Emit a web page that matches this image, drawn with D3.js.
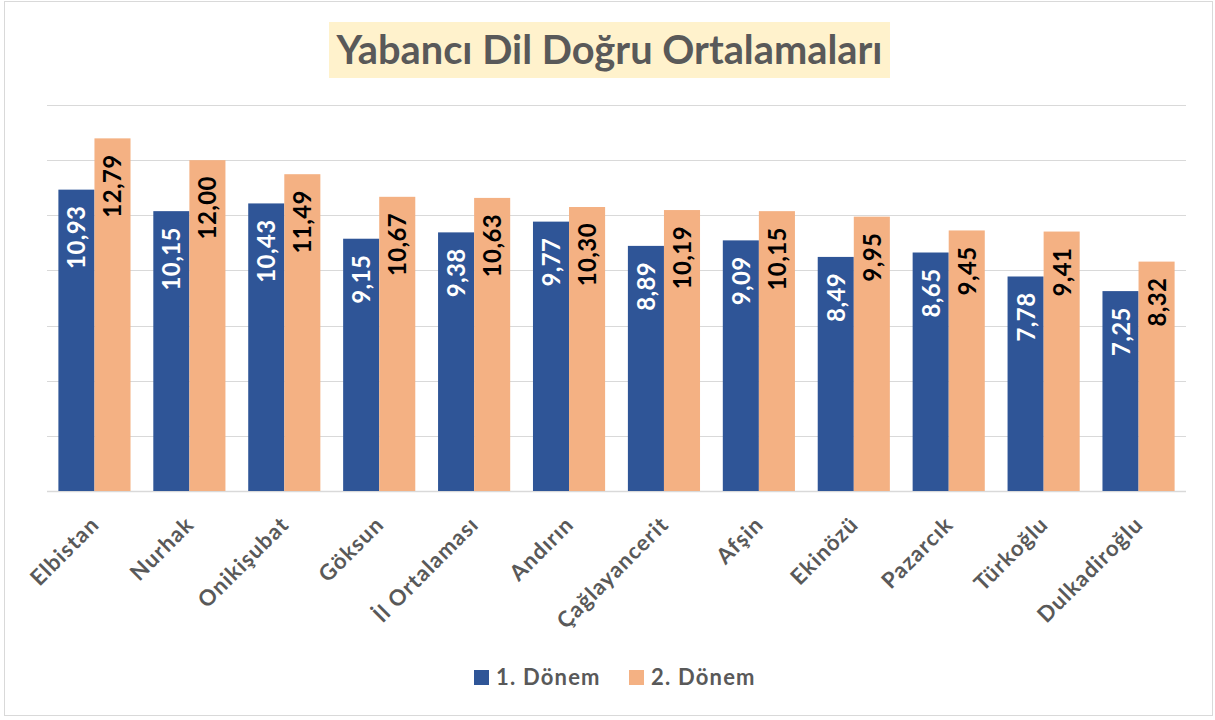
<!DOCTYPE html>
<html>
<head>
<meta charset="utf-8">
<script src="https://cdn.jsdelivr.net/npm/d3@7"></script>
<style>
  body { margin: 0; background: #fff; }
  svg text { font-family: Lato, "Open Sans", sans-serif; font-weight: bold; }
</style>
</head>
<body>
<div id="chart"></div>
<script>
// chart data
const categories = ['Elbistan', 'Nurhak', 'Onikişubat', 'Göksun', 'İl Ortalaması', 'Andırın',
  'Çağlayancerit', 'Afşin', 'Ekinözü', 'Pazarcık', 'Türkoğlu', 'Dulkadiroğlu'];
const donem1 = [10.93, 10.15, 10.43, 9.15, 9.38, 9.77, 8.89, 9.09, 8.49, 8.65, 7.78, 7.25];
const donem2 = [12.79, 12.00, 11.49, 10.67, 10.63, 10.30, 10.19, 10.15, 9.95, 9.45, 9.41, 8.32];
const seriesNames = ['1. Dönem', '2. Dönem'];
const yTicks = [0, 2, 4, 6, 8, 10, 12, 14];

const width = 1215, height = 720;
const colors = ['#2F5597', '#F4B183'];
const labelColors = ['#ffffff', '#000000'];

const svg = d3.select('#chart').append('svg')
  .attr('width', width)
  .attr('height', height);

// outer border
svg.append('rect')
  .attr('x', 4.5).attr('y', 1.5)
  .attr('width', 1208).attr('height', 714)
  .attr('fill', '#fff')
  .attr('stroke', '#D9D9D9')
  .attr('stroke-width', 1);

let x = d3.scaleBand()
  .domain(categories)
  .range([47, 1186])
  .paddingInner(0.24)
  .paddingOuter(0.12);

let x1 = d3.scaleBand()
  .domain(seriesNames)
  .range([0, x.bandwidth()]);

let y = d3.scaleLinear()
  .domain([0, 14])
  .range([491, 105]);

// gridlines
svg.append('g')
  .selectAll('line')
  .data(yTicks)
  .enter().append('line')
  .attr('x1', 47).attr('x2', 1186)
  .attr('y1', d => Math.round(y(d)) + 0.5)
  .attr('y2', d => Math.round(y(d)) + 0.5)
  .attr('stroke', '#D9D9D9')
  .attr('stroke-width', d => d === 0 ? 1.5 : 1.2);

// title
svg.append('rect')
  .attr('x', 329).attr('y', 22)
  .attr('width', 561).attr('height', 56)
  .attr('fill', '#FFF2CC');

const title = svg.append('text')
  .attr('x', 609.5).attr('y', 64)
  .attr('text-anchor', 'middle')
  .attr('fill', '#595959')
  .style('font-size', '36px')
  .text('Yabancı Dil Doğru Ortalamaları');
// fit to the reference width
let tw = title.node().getComputedTextLength();
title.style('font-size', (36 * 546 / tw) + 'px');

// bars
const rows = categories.map((c, i) => ({ cat: c, vals: [donem1[i], donem2[i]] }));

const groups = svg.append('g')
  .selectAll('g')
  .data(rows)
  .enter().append('g')
  .attr('transform', d => `translate(${x(d.cat)},0)`);

groups.selectAll('rect')
  .data(d => d.vals.map((v, s) => ({ v, s })))
  .enter().append('rect')
  .attr('x', d => x1(seriesNames[d.s]))
  .attr('y', d => y(d.v))
  .attr('width', x1.bandwidth())
  .attr('height', d => y(0) - y(d.v))
  .attr('fill', d => colors[d.s]);

// value labels, rotated inside end
groups.selectAll('text')
  .data(d => d.vals.map((v, s) => ({ v, s })))
  .enter().append('text')
  .attr('transform', d => `translate(${x1(seriesNames[d.s]) + x1.bandwidth() / 2 + 9},${y(d.v) + 16}) rotate(-90)`)
  .attr('text-anchor', 'end')
  .attr('fill', d => labelColors[d.s])
  .style('font-size', '24px')
  .style('letter-spacing', '0.4px')
  .text(d => d.v.toFixed(2).replace('.', ','));

// category labels
svg.append('g')
  .selectAll('text')
  .data(categories)
  .enter().append('text')
  .attr('transform', d => `translate(${x(d) + x.bandwidth() / 2 + 6},${526}) rotate(-45)`)
  .attr('text-anchor', 'end')
  .attr('fill', '#595959')
  .style('font-size', '22px')
  .style('letter-spacing', '1.1px')
  .text(d => d);

// legend
const legend = svg.append('g');
const legendX = [474, 629];
seriesNames.forEach((name, i) => {
  legend.append('rect')
    .attr('x', legendX[i]).attr('y', 670)
    .attr('width', 15).attr('height', 15)
    .attr('fill', colors[i]);
  legend.append('text')
    .attr('x', legendX[i] + 22).attr('y', 685)
    .attr('fill', '#595959')
    .style('font-size', '22px')
    .style('letter-spacing', '1.2px')
    .text(name);
});
</script>
</body>
</html>
